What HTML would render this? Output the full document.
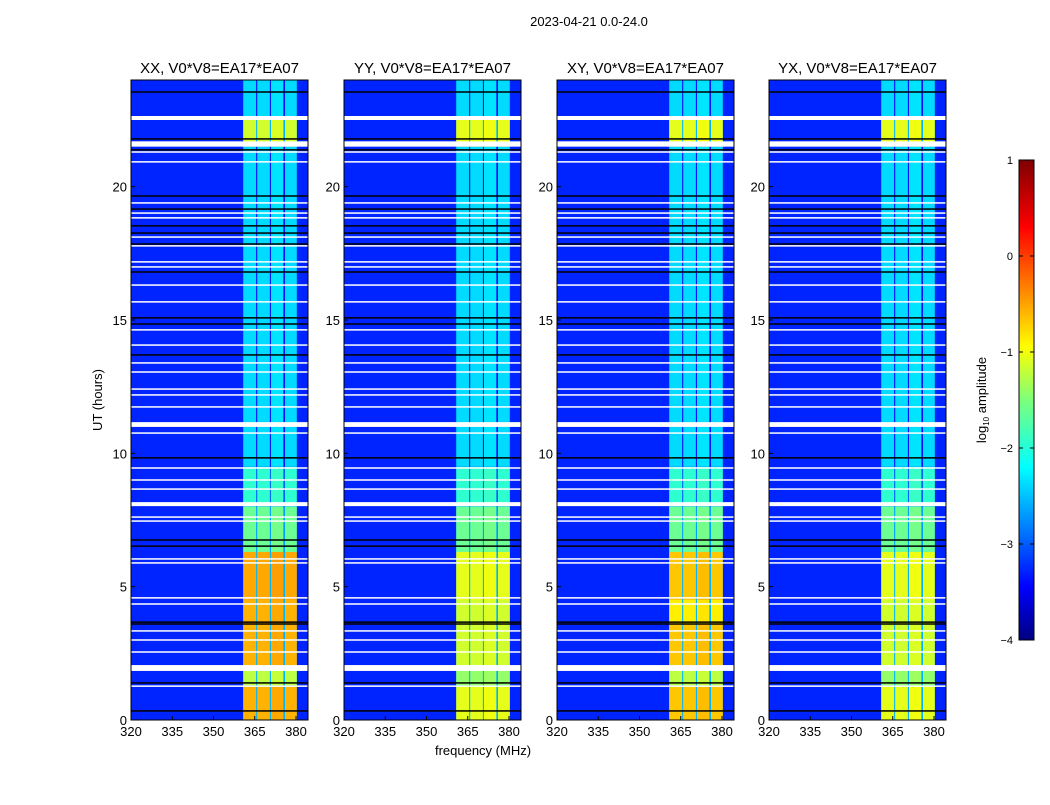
<!DOCTYPE html>
<html><head><meta charset="utf-8"><style>
body{margin:0;background:#fff;}
svg text{font-family:"Liberation Sans",sans-serif;fill:#000;}
</style></head><body>
<svg id="fig" width="1050" height="800" xmlns="http://www.w3.org/2000/svg">
<defs>
<linearGradient id="jetgrad" x1="0" y1="1" x2="0" y2="0">
<stop offset="0" stop-color="#00007f"/><stop offset="0.11" stop-color="#0000ff"/>
<stop offset="0.36" stop-color="#00ffff"/><stop offset="0.5" stop-color="#7dff7a"/>
<stop offset="0.61" stop-color="#ffff00"/><stop offset="0.86" stop-color="#ff0000"/>
<stop offset="1" stop-color="#7f0000"/></linearGradient>
</defs>
<text x="589" y="26" font-size="13" text-anchor="middle">2023-04-21 0.0-24.0</text>
<text transform="translate(102,400) rotate(-90)" font-size="13" text-anchor="middle">UT (hours)</text>
<text x="483" y="755" font-size="13" text-anchor="middle">frequency (MHz)</text>
<g>
<rect x="1019" y="160" width="15" height="480" fill="url(#jetgrad)" stroke="#000" stroke-width="1"/>
<text transform="translate(986,400) rotate(-90)" font-size="13" text-anchor="middle">log<tspan font-size="8" dy="3">10</tspan><tspan dy="-3"> amplitude</tspan></text>
</g>
<g id="panels"></g>
</svg>
<script>
const panelTitles = ["XX, V0*V8=EA17*EA07","YY, V0*V8=EA17*EA07","XY, V0*V8=EA17*EA07","YX, V0*V8=EA17*EA07"];
const segEdges = [0,1.3,2.0,3.6,4.5,6.3,8.0,9.5,21.5,22.5,24];
const levelsXX = [-0.5,-1.2,-0.5,-0.5,-0.45,-1.6,-1.9,-2.3,-1.1,-2.3];
const levelsYY = [-1.0,-1.4,-1.1,-1.1,-1.0,-1.6,-1.9,-2.3,-1.0,-2.3];
const levelsXY = [-0.6,-1.2,-0.6,-0.8,-0.6,-1.6,-1.9,-2.3,-1.0,-2.3];
const levelsYX = [-1.0,-1.4,-1.1,-1.1,-1.0,-1.6,-1.9,-2.3,-1.0,-2.3];
const bandLo = [360.8,365.9,370.9,376.0];
const bandHi = [365.5,370.5,375.4,380.3];
const backgroundLevel = -3.2;
const whiteThickStart = [22.5,21.5,10.99,8.02,1.84];
const whiteThickEnd = [22.65,21.7,11.17,8.17,2.06];
const whiteThin = [21.3,20.93,19.39,19.01,18.83,18.11,17.78,17.18,16.99,16.31,15.68,14.63,14.06,13.39,13.05,12.41,12.19,11.74,10.76,9.45,9.0,8.66,7.61,7.46,6.04,5.89,4.58,4.35,3.34,3.0,2.55,1.27];
const blackLines = [23.55,21.79,21.38,19.65,19.16,18.53,18.26,17.85,16.8,15.08,14.85,13.69,9.83,6.75,6.52,3.67,3.6,1.39,0.34];
const xTicks = [320,335,350,365,380];
const yTicks = [0,5,10,15,20];
const cbTicks = [1,0,-1,-2,-3,-4];
const panelX = [131,344,557,769];
const allLevels = [levelsXX,levelsYY,levelsXY,levelsYX];

const NS="http://www.w3.org/2000/svg";
const PW=177, Y0=80, Y1=720;
function jet(v){const t=Math.max(0,Math.min(1,(v+4)/5));
 const c=x=>Math.round(255*Math.max(0,Math.min(1,x)));
 return `rgb(${c(1.5-Math.abs(4*t-3))},${c(1.5-Math.abs(4*t-2))},${c(1.5-Math.abs(4*t-1))})`;}
function yS(h){return Y1-(h/24)*(Y1-Y0);}
function mk(tag,attrs,parent){const e=document.createElementNS(NS,tag);for(const k in attrs)e.setAttribute(k,attrs[k]);parent.appendChild(e);return e;}
const root=document.getElementById('panels');
panelTitles.forEach((title,p)=>{
 const x0=panelX[p];
 const xS=f=>x0+(f-320)*2.75;
 const g=mk('g',{},root);
 
 
 const bg=mk('rect',{x:x0,y:Y0,width:PW,height:Y1-Y0,fill:jet(backgroundLevel)},g);
 
 
 const lv=allLevels[p];
 for(let s=0;s<lv.length;s++){
  const ya=yS(segEdges[s+1]), yb=yS(segEdges[s]);
  const sp=mk('rect',{x:xS(bandLo[0]),y:ya,width:xS(bandHi[3])-xS(bandLo[0]),height:yb-ya,fill:jet(Math.min(lv[s]-1.0,-2.5))},g);
  
  
  for(let b=0;b<bandLo.length;b++){
   const r=mk('rect',{x:xS(bandLo[b]),y:ya,width:xS(bandHi[b])-xS(bandLo[b]),height:yb-ya,fill:jet(lv[s]+(b===2?0.05:0))},g);
   
   
  }
 }
 whiteThickStart.forEach((h,i)=>{
  const r=mk('rect',{x:x0,y:yS(whiteThickEnd[i]),width:PW,height:yS(h)-yS(whiteThickEnd[i]),fill:'#fff'},g);
  
  
 });
 whiteThin.forEach(h=>{
  const r=mk('rect',{x:x0,y:yS(h)-0.75,width:PW,height:1.5,fill:'#fff'},g);
  
  
 });
 blackLines.forEach(h=>{
  const r=mk('rect',{x:x0,y:yS(h)-0.75,width:PW,height:1.5,fill:'#000'},g);
  
  
 });
 const fr=mk('rect',{x:x0,y:Y0,width:PW,height:Y1-Y0,fill:'none',stroke:'#000','stroke-width':1},g);
 
 
 const t=mk('text',{x:x0+PW/2,y:73,'font-size':15,'text-anchor':'middle'},g);
 t.textContent=title;
 
 
 xTicks.forEach(f=>{
  mk('line',{x1:xS(f),x2:xS(f),y1:Y1,y2:Y1-4,stroke:'#000'},g);
  const l=mk('text',{x:xS(f),y:736,'font-size':13,'text-anchor':'middle'},g);
  l.textContent=f;
  
  
 });
 yTicks.forEach(h=>{
  mk('line',{x1:x0,x2:x0+4,y1:yS(h),y2:yS(h),stroke:'#000'},g);
  const l=mk('text',{x:x0-4,y:yS(h)+5,'font-size':13,'text-anchor':'end'},g);
  l.textContent=h;
  
  
 });
});
const fig=document.getElementById('fig');
cbTicks.forEach(v=>{
 const y=160+(1-v)*96;
 const l=mk('text',{x:1013,y:y+4,'font-size':11,'text-anchor':'end'},fig);
 l.textContent=v<0?'\u2212'+(-v):String(v);
 
 
 mk('line',{x1:1019,x2:1023,y1:y,y2:y,stroke:'#000'},fig);
 mk('line',{x1:1030,x2:1034,y1:y,y2:y,stroke:'#000'},fig);
});
</script>
</body></html>
